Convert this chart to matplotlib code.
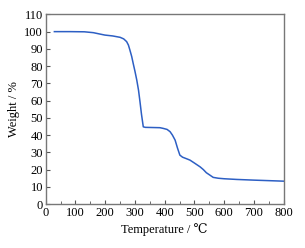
import numpy as np
import matplotlib.pyplot as plt
from matplotlib.ticker import MultipleLocator

plt.rcParams['font.family'] = ['Liberation Serif', 'DejaVu Serif']

# TGA curve
temp = [29, 80, 130, 160, 182, 199, 225, 250, 262, 272, 278, 283, 289, 294, 300, 306,
        312, 317, 322, 328, 335, 360, 384, 395, 408, 418, 426, 435, 443, 451, 460,
        475, 485, 500, 519, 530, 540, 552, 563, 580, 600, 642, 700, 750, 800]
weight = [100, 100, 99.9, 99.4, 98.6, 98.0, 97.5, 96.7, 95.8, 94.2, 92.2, 89.3, 85.6, 81.6,
          77.0, 72.0, 66.0, 59.2, 52.0, 44.8, 44.5, 44.4, 44.3, 43.9, 43.3, 42.0, 40.0,
          37.1, 32.5, 28.4, 27.2, 26.2, 25.5, 23.8, 21.6, 20.0, 18.2, 16.8, 15.5, 15.0,
          14.7, 14.3, 13.9, 13.6, 13.3]

fig = plt.figure(figsize=(3.05, 2.48), dpi=100)
ax = fig.add_axes([0.150, 0.177, 0.780, 0.765])
ax.plot(temp, weight, color='#2d5fc4', lw=1.1)

ax.set_xlim(0, 800)
ax.set_ylim(0, 110)
ax.xaxis.set_major_locator(MultipleLocator(100))
ax.xaxis.set_minor_locator(MultipleLocator(50))
ax.yaxis.set_major_locator(MultipleLocator(10))
ax.tick_params(which='both', direction='in', labelsize=9, color='#555555', pad=2)
ax.tick_params(which='major', length=3)
ax.tick_params(which='minor', length=2)
ax.tick_params(axis='y', right=False)
for s in ax.spines.values():
    s.set_color('#777777')
    s.set_linewidth(1.0)

ax.set_xlabel('Temperature / ℃', fontsize=9, labelpad=3)
ax.set_ylabel('Weight / %', fontsize=9, labelpad=3)

fig.savefig('out.png', dpi=100)
